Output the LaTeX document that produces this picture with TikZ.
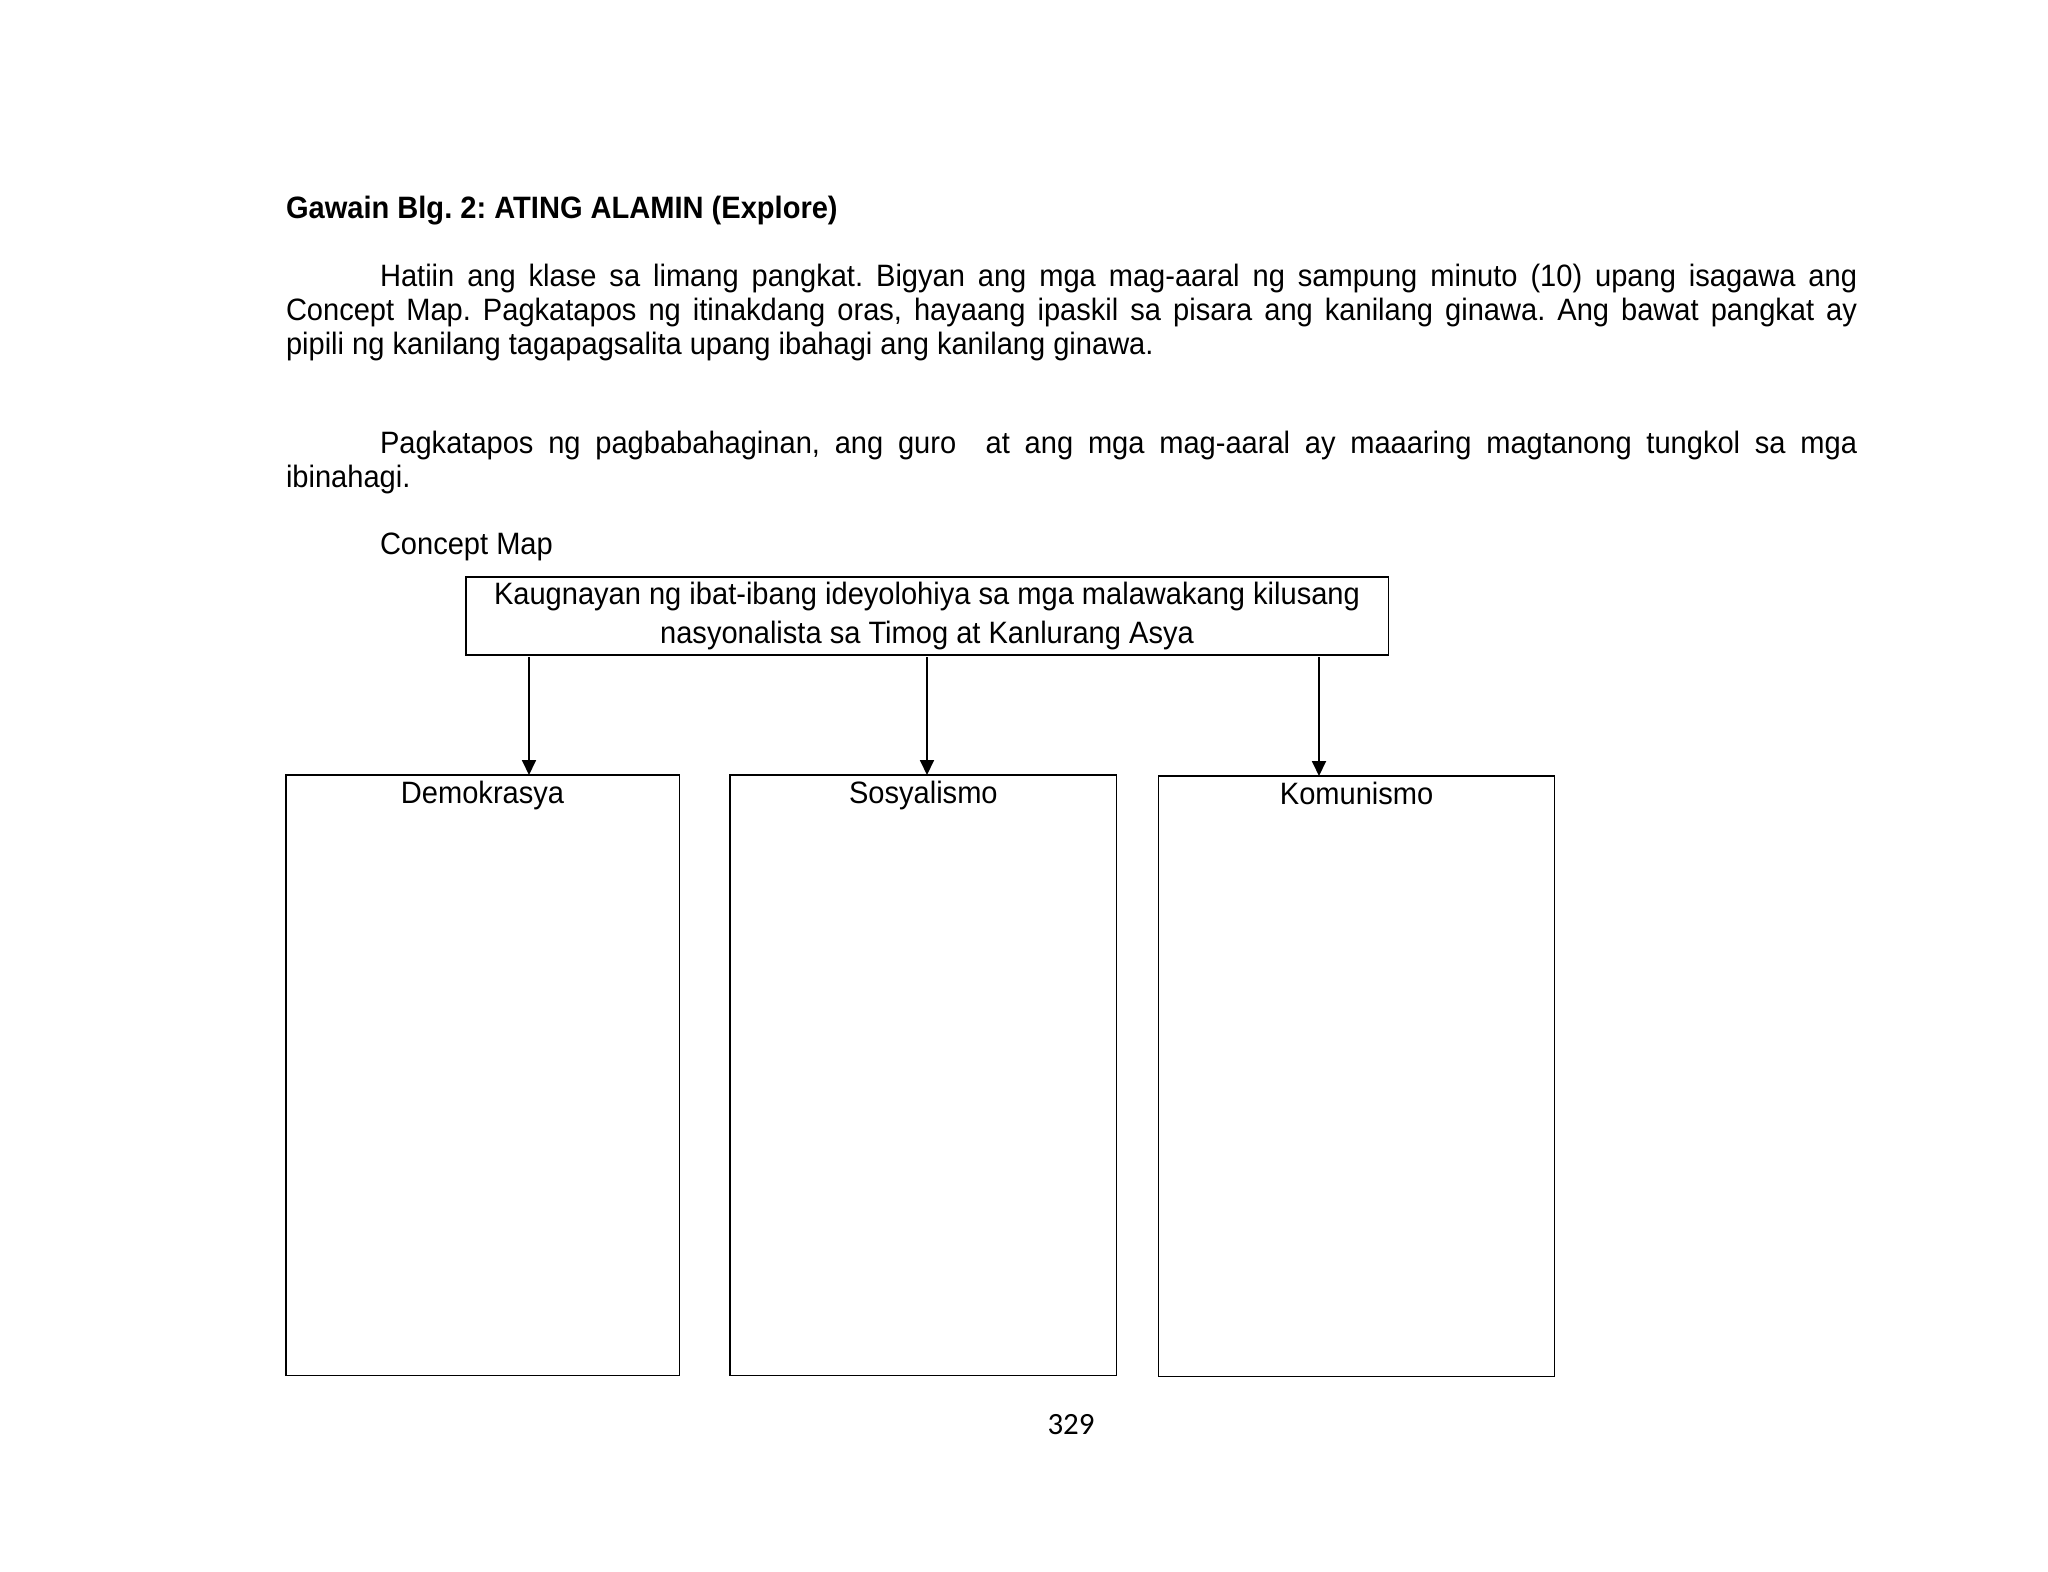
\documentclass[tikz,border=0pt]{standalone}
\usepackage{fontspec}
\setmainfont[FakeStretch=0.94]{Liberation Sans}
\newfontfamily\pagefont{Carlito}
\usetikzlibrary{positioning,calc,arrows.meta}

\begin{document}
\frenchspacing
\begin{tikzpicture}[x=0.013643cm, y=-0.013643cm,
  every node/.style={inner sep=0pt, outer sep=0pt, font=\fontsize{12pt}{13.2pt}\selectfont},
  para/.style={anchor=base west, text width=21.433cm, align=justify},
  topicbox/.style={draw, line width=0.45pt, minimum width=12.579cm, minimum height=1.064cm,
                   align=center, font=\fontsize{12pt}{15.1pt}\selectfont},
  ideabox/.style={draw, line width=0.45pt, anchor=north west, minimum height=8.19cm},
  ideatitle/.style={anchor=north, font=\fontsize{12pt}{15pt}\selectfont},
  arrow/.style={-{Triangle[width=5.4pt,length=5.8pt]}, line width=0.8pt}]
\useasboundingbox[fill=white] (0,0) rectangle (2048,1572);
% heading and instructions
\node[anchor=base west, font=\fontsize{12pt}{13.2pt}\bfseries] (heading) at (286,218)
  {Gawain Blg. 2: ATING ALAMIN (Explore)};
\node[para] (intro) at (286,286)
  {\hspace*{36.5pt}Hatiin ang klase sa limang pangkat. Bigyan ang mga mag-aaral ng sampung minuto (10) upang isagawa ang\linebreak
   Concept Map. Pagkatapos ng itinakdang oras, hayaang ipaskil sa pisara ang kanilang ginawa. Ang bawat pangkat ay\linebreak
   pipili ng kanilang tagapagsalita upang ibahagi ang kanilang ginawa.};
\node[para] (followup) at (286,453)
  {\hspace*{36.5pt}Pagkatapos ng pagbabahaginan, ang guro~ at ang mga mag-aaral ay maaaring magtanong tungkol sa mga\linebreak
   ibinahagi.};
\node[anchor=base west] (cmlabel) at (380,554) {Concept Map};
% concept map
\node[topicbox] (topic) at (927,616)
  {Kaugnayan ng ibat-ibang ideyolohiya sa mga malawakang kilusang\\
   nasyonalista sa Timog at Kanlurang Asya};
\node[ideabox, minimum width=5.362cm] (demo) at (286,775) {};
\node[ideabox, minimum width=5.275cm] (sosy) at (730,775) {};
\node[ideabox, minimum width=5.405cm] (komu) at (1158.5,776) {};
\node[ideatitle, below=2.5pt of demo.north] (demotitle) {Demokrasya};
\node[ideatitle, below=2.5pt of sosy.north] (sosytitle) {Sosyalismo};
\node[ideatitle, below=2.5pt of komu.north] (komutitle) {Komunismo};
\coordinate (a1) at (529,657);
\coordinate (a2) at (927,657);
\coordinate (a3) at (1319,657);
\draw[arrow] (a1) -- (a1 |- demo.north);
\draw[arrow] (a2) -- (a2 |- sosy.north);
\draw[arrow] (a3) -- (a3 |- komu.north);
% page number
\node[font=\pagefont\fontsize{12pt}{14pt}\selectfont] (pagenum) at (1071,1425) {329};
\end{tikzpicture}
\end{document}
